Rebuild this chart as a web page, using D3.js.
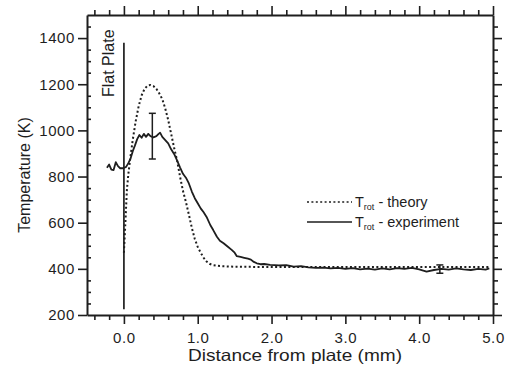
<!DOCTYPE html>
<html><head><meta charset="utf-8">
<script src="https://cdn.jsdelivr.net/npm/d3@7/dist/d3.min.js"></script>
<style>
html,body{margin:0;padding:0;background:#fff;}
svg text{font-family:"Liberation Sans",Arial,Helvetica,sans-serif;fill:#1e1e1e;}
</style></head><body>
<svg id="c" width="505" height="368"></svg>
<script>
// ---- data ----
const xMajorTicks = [0, 1, 2, 3, 4, 5];
const yMajorTicks = [200, 400, 600, 800, 1000, 1200, 1400];
const xLabel = "Distance from plate (mm)";
const yLabel = "Temperature (K)";
const plateLabel = "Flat Plate";
const plateLine = {x: 0, top: 1380, bottom: 225};
const theoryX = [0.0,0.02,0.04,0.06,0.083,0.12,0.16,0.20,0.24,0.28,0.32,0.36,0.40,0.44,0.48,0.52,0.56,0.60,0.64,0.68,0.72,0.76,0.80,0.84,0.88,0.92,0.96,1.00,1.04,1.08,1.12,1.16,1.21,1.3,1.5,2.0,3.0,4.0,4.95];
const theoryT = [470,600,740,810,872,960,1040,1105,1152,1180,1194,1197,1192,1180,1160,1135,1095,1045,985,925,870,800,738,690,635,578,530,495,470,448,432,422,416,412,409,408,408,408,408];
const exptX = [-0.23,-0.2,-0.17,-0.14,-0.11,-0.08,-0.05,-0.01,0.03,0.06,0.09,0.12,0.15,0.18,0.21,0.24,0.27,0.30,0.33,0.36,0.40,0.44,0.47,0.49,0.52,0.56,0.60,0.64,0.68,0.72,0.76,0.80,0.84,0.88,0.92,0.96,1.00,1.04,1.08,1.12,1.17,1.21,1.26,1.30,1.35,1.40,1.46,1.50,1.53,1.58,1.63,1.68,1.72,1.76,1.80,1.85,1.90,1.98,2.1,2.2,2.3,2.4,2.5,2.6,2.7,2.8,2.9,3.0,3.1,3.2,3.3,3.4,3.5,3.6,3.7,3.8,3.9,4.0,4.1,4.2,4.3,4.4,4.5,4.6,4.7,4.8,4.9,4.95];
const exptT = [838,852,830,828,862,845,836,836,842,858,878,910,935,962,980,968,985,972,985,975,970,975,985,990,972,958,944,918,898,870,840,812,795,770,735,706,684,662,645,625,590,568,539,522,511,498,482,470,455,452,448,444,440,430,424,420,421,417,415,416,410,412,406,404,405,402,404,400,403,398,401,397,402,398,403,400,404,398,388,395,400,397,402,398,395,400,397,402];
const errX = [0.385, 4.28];
const errLow = [876, 381];
const errHigh = [1074, 417];
const legendLabels = ["theory", "experiment"];

// ---- layout ----
const svg = d3.select("#c");
const x = d3.scaleLinear().domain([-0.5, 5.0]).range([87, 493]);
const y = d3.scaleLinear().domain([200, 1500]).range([315, 15]);
const ink = "#1e1e1e";
const xMinor = d3.range(-0.4, 5.0001, 0.2).filter(v => Math.abs(v - Math.round(v)) > 1e-6);
const yMinor = d3.range(250, 1500, 50).filter(v => v % 200 !== 0);

function styleAxis(g){
  g.selectAll("path.domain").attr("stroke", ink).attr("stroke-width", 2);
  g.selectAll(".tick line").attr("stroke", ink).attr("stroke-width", 1.6);
}
// bottom
svg.append("g").attr("transform", `translate(0,${y(200)})`)
  .call(d3.axisBottom(x).tickValues(xMajorTicks).tickSizeInner(9).tickSizeOuter(0).tickPadding(8).tickFormat(d3.format(".1f")))
  .call(styleAxis)
  .call(g => g.selectAll("text").attr("font-size", 15).attr("letter-spacing", "0.6px").attr("fill", ink));
svg.append("g").attr("transform", `translate(0,${y(200)})`)
  .call(d3.axisBottom(x).tickValues(xMinor).tickSize(5).tickFormat(""))
  .call(styleAxis).call(g => g.select("path.domain").remove());
// top
svg.append("g").attr("transform", `translate(0,${y(1500)})`)
  .call(d3.axisTop(x).tickValues(xMajorTicks).tickSizeInner(9).tickSizeOuter(0).tickFormat(""))
  .call(styleAxis);
svg.append("g").attr("transform", `translate(0,${y(1500)})`)
  .call(d3.axisTop(x).tickValues(xMinor).tickSize(5).tickFormat(""))
  .call(styleAxis).call(g => g.select("path.domain").remove());
// left
svg.append("g").attr("transform", `translate(${x(-0.5)},0)`)
  .call(d3.axisLeft(y).tickValues(yMajorTicks).tickSizeInner(9).tickSizeOuter(0).tickPadding(3).tickFormat(d3.format("d")))
  .call(styleAxis)
  .call(g => g.selectAll("text").attr("font-size", 15).attr("letter-spacing", "0.6px").attr("fill", ink));
svg.append("g").attr("transform", `translate(${x(-0.5)},0)`)
  .call(d3.axisLeft(y).tickValues(yMinor).tickSize(-4).tickFormat(""))
  .call(styleAxis).call(g => g.select("path.domain").remove());
// right
svg.append("g").attr("transform", `translate(${x(5)},0)`)
  .call(d3.axisRight(y).tickValues(yMajorTicks).tickSizeInner(9).tickSizeOuter(0).tickFormat(""))
  .call(styleAxis);
svg.append("g").attr("transform", `translate(${x(5)},0)`)
  .call(d3.axisRight(y).tickValues(yMinor).tickSize(5).tickFormat(""))
  .call(styleAxis).call(g => g.select("path.domain").remove());

// axis titles
svg.append("text").attr("x", 295).attr("y", 361).attr("text-anchor", "middle")
  .attr("font-size", 16.5).attr("textLength", 214).attr("lengthAdjust", "spacingAndGlyphs").text(xLabel);
svg.append("text").attr("transform", "translate(30,175) rotate(-90)").attr("text-anchor", "middle")
  .attr("font-size", 16).text(yLabel);

// plate
svg.append("line").attr("x1", x(plateLine.x)).attr("x2", x(plateLine.x))
  .attr("y1", y(plateLine.top)).attr("y2", y(plateLine.bottom))
  .attr("stroke", ink).attr("stroke-width", 1.7);
svg.append("text").attr("transform", `translate(114,97) rotate(-90)`).attr("font-size", 16).text(plateLabel);

// lines
const line = d3.line().x(d => x(d[0])).y(d => y(d[1]));
const theory = theoryX.map((v, i) => [v, theoryT[i]]);
const expt = exptX.map((v, i) => [v, exptT[i]]);
svg.append("path").attr("d", line(theory)).attr("fill", "none").attr("stroke", ink)
  .attr("stroke-width", 2).attr("stroke-dasharray", "2,2.4");
svg.append("path").attr("d", line(expt)).attr("fill", "none").attr("stroke", ink)
  .attr("stroke-width", 1.8).attr("stroke-linejoin", "round");

// error bars
errX.forEach((ex, i) => {
  const g = svg.append("g").attr("stroke", ink).attr("stroke-width", 1.5);
  g.append("line").attr("x1", x(ex)).attr("x2", x(ex)).attr("y1", y(errLow[i])).attr("y2", y(errHigh[i]));
  [errLow[i], errHigh[i]].forEach(v => g.append("line").attr("x1", x(ex) - 3.5).attr("x2", x(ex) + 3.5).attr("y1", y(v)).attr("y2", y(v)));
});

// legend
const lg = svg.append("g");
[0, 1].forEach(i => {
  const yy = 202 + i * 20;
  lg.append("line").attr("x1", 307).attr("x2", 352).attr("y1", yy).attr("y2", yy)
    .attr("stroke", ink).attr("stroke-width", i === 0 ? 1.7 : 1.5).attr("stroke-dasharray", i === 0 ? "2,2.4" : null);
  const t = lg.append("text").attr("x", 355).attr("y", yy + 5).attr("font-size", 14.5);
  t.append("tspan").text("T");
  t.append("tspan").attr("font-size", 9).attr("dy", 3).text("rot");
  t.append("tspan").attr("dy", -3).text(" - " + legendLabels[i]);
});
</script>
</body></html>
